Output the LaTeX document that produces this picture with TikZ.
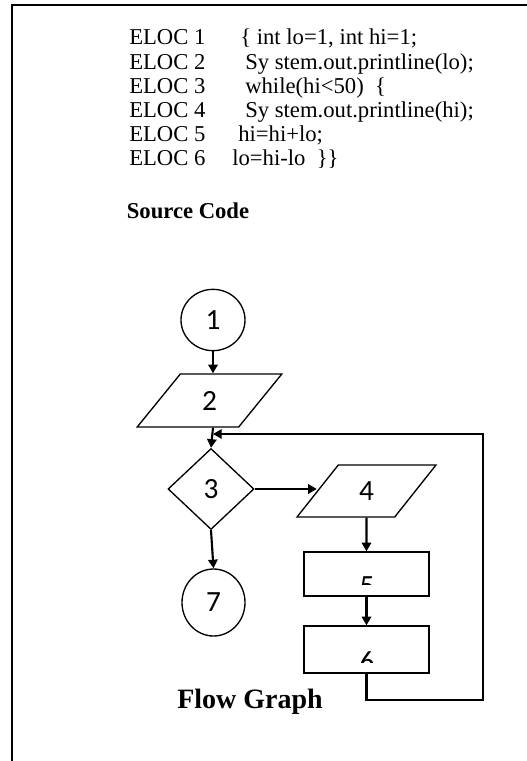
\documentclass[tikz,border=0pt]{standalone}
\usepackage{fontspec}
\setmainfont{Liberation Serif}
\newfontfamily\numfont{Carlito}
\usetikzlibrary{shapes.geometric,arrows.meta}

\tikzset{
  box/.style={draw, line width=1pt, inner sep=0pt},
  term/.style={box, ellipse},
  io/.style={box, trapezium, trapezium left angle=60, trapezium right angle=120, trapezium stretches=true},
  test/.style={box, diamond},
  proc/.style={box, rectangle},
  num/.style={font=\numfont\fontsize{22}{22}\selectfont},
  code/.style={anchor=base west, inner sep=0pt, font=\fontsize{17}{20}\selectfont},
  title/.style={font=\bfseries\fontsize{17}{20}\selectfont},
  arr/.style={line width=1.6pt, -{Triangle[length=6.5pt,width=7pt]}},
}

\begin{document}
\begin{tikzpicture}[x=0.75pt,y=-0.75pt]
  \useasboundingbox (0,0) rectangle (527,761);
  % frame
  \draw[line width=1.5pt] (527,5) -- (12,5) -- (12,761);

  % source code
  \node[code] (e1) at (129,44) {ELOC 1};
  \node[code] (e2) at (129,69) {ELOC 2};
  \node[code] (e3) at (129,93) {ELOC 3};
  \node[code] (e4) at (129,117) {ELOC 4};
  \node[code] (e5) at (129,141) {ELOC 5};
  \node[code] (e6) at (129,165) {ELOC 6};
  \node[code] (c1) at (240,44) {\{\ int lo=1, int hi=1;};
  \node[code] (c2) at (245,69) {Sy stem.out.printline(lo);};
  \node[code] (c3) at (245,93) {while(hi<50)\ \ \{};
  \node[code] (c4) at (245,117) {Sy stem.out.printline(hi);};
  \node[code] (c5) at (238,141) {hi=hi+lo;};
  \node[code] (c6) at (232,165) {lo=hi-lo\ \ \}\}};
  \node[title] (src) at (188,211) {Source Code};

  % flow graph
  \node[term, num, minimum width=48pt, minimum height=46pt] (n1) at (213,320) {1};
  \node[io, num, minimum width=108.75pt, minimum height=39.75pt] (n2) at (209.5,400.5) {2};
  \node[test, num, minimum width=64.5pt, minimum height=60.75pt] (n3) at (211,489) {3};
  \node[io, num, minimum width=104.25pt, minimum height=39pt] (n4) at (366.5,491) {4};
  \node[proc, minimum width=93.75pt, minimum height=33pt] (n5) at (366.5,574) {};
  \node[proc, minimum width=93.75pt, minimum height=35.25pt] (n6) at (366.5,649.5) {};
  \node[term, num, minimum width=47.25pt, minimum height=50.25pt] (n7) at (213.5,602.5) {7};
  \node[title, font=\bfseries\fontsize{21}{24}\selectfont] (fg) at (250,702) {Flow Graph};

  % labels of 5 and 6, cut off at the bottom
  \begin{scope}
    \clip (304,552) rectangle (429,584);
    \node[num] (t5) at (367,586) {5};
  \end{scope}
  \begin{scope}
    \clip (304,626) rectangle (429,662);
    \node[num] (t6) at (367,662) {6};
  \end{scope}

  \coordinate (back) at (483,700);
  \coordinate (merge) at (213,434);

  \draw[arr] (n1.south) -- (n1.south |- n2.north);
  \draw[arr] (n2.south -| n1.south) -- (n3.north);
  \draw[arr] (n3.east) -- (n3.east -| n4.west);
  \draw[arr] (n4.south) -- (n5.north);
  \draw[arr] (n5.south) -- (n6.north);
  \draw[arr] (n3.south) -- (n7.north);
  \draw[arr] (n6.south) |- (back) |- (merge);
\end{tikzpicture}
\end{document}
